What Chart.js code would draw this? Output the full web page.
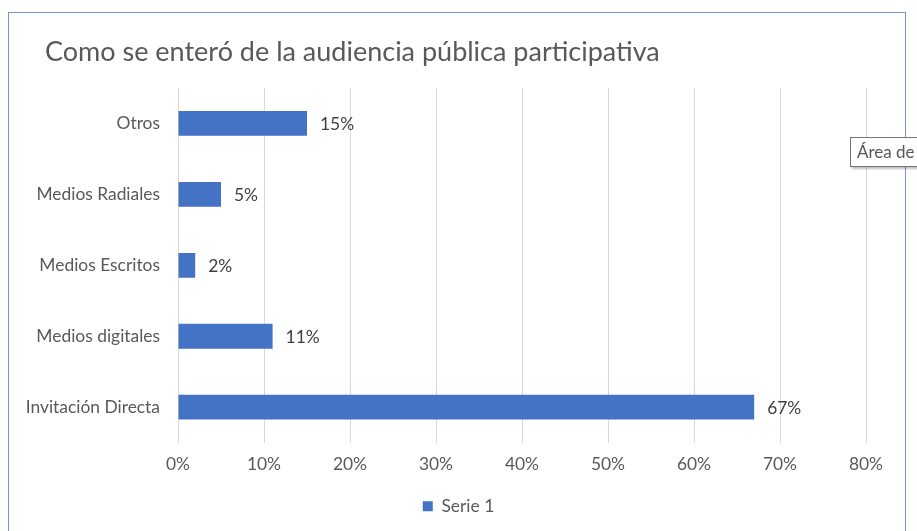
<!DOCTYPE html>
<html>
<head>
<meta charset="utf-8">
<script src="https://cdn.jsdelivr.net/npm/chart.js@4"></script>
<style>
  html, body { margin: 0; padding: 0; background: #ffffff; width: 917px; height: 531px; overflow: hidden; }
  #wrap { position: relative; width: 917px; height: 531px; }
  #frame { position: absolute; left: 8px; top: 12px; width: 898px; height: 540px; border: 1px solid #7196d8; box-sizing: border-box; pointer-events: none; }
  #c { position: absolute; left: 0; top: 0; }
  #tip { position: absolute; left: 850px; top: 137px; height: 28px; padding: 0 8px 0 6px; background: #fff; border: 1px solid #767676; box-shadow: 2px 2px 2px rgba(0,0,0,0.25); font-family: Lato, "Open Sans", sans-serif; font-size: 17px; line-height: 28px; color: #575757; white-space: nowrap; }
</style>
</head>
<body>
<div id="wrap">
  <canvas id="c" width="917" height="531"></canvas>
  <div id="frame"></div>
  <div id="tip">Área de trazado</div>
</div>
<script>
const titleText = "Como se enteró de la audiencia pública participativa";
const categories = ["Otros", "Medios Radiales", "Medios Escritos", "Medios digitales", "Invitación Directa"];
const seriesName = "Serie 1";
const seriesValues = [15, 5, 2, 11, 67];
const xTicks = [0, 10, 20, 30, 40, 50, 60, 70, 80];

const FONT = 'Lato, "Open Sans", sans-serif';
const BLUE = '#4472c4';
const FS = 17.4;

const valueLabels = {
  id: 'valueLabels',
  afterDatasetsDraw(chart) {
    const ctx = chart.ctx;
    const meta = chart.getDatasetMeta(0);
    ctx.save();
    ctx.font = FS + 'px ' + FONT;
    ctx.fillStyle = '#404040';
    ctx.textAlign = 'left';
    ctx.textBaseline = 'middle';
    meta.data.forEach((bar, i) => {
      ctx.fillText(seriesValues[i] + '%', bar.x + 13, bar.y + 1);
    });
    ctx.restore();
  }
};

const titleDraw = {
  id: 'titleDraw',
  afterDraw(chart) {
    const ctx = chart.ctx;
    ctx.save();
    ctx.font = '27px ' + FONT;
    ctx.fillStyle = '#595959';
    ctx.textAlign = 'left';
    ctx.textBaseline = 'middle';
    ctx.fillText(titleText, 45, 52);
    ctx.restore();
  }
};

new Chart(document.getElementById('c'), {
  type: 'bar',
  data: {
    labels: categories,
    datasets: [{
      label: seriesName,
      data: seriesValues,
      backgroundColor: BLUE,
      borderWidth: 0,
      categoryPercentage: 1,
      barPercentage: 0.35
    }]
  },
  options: {
    indexAxis: 'y',
    responsive: false,
    animation: false,
    devicePixelRatio: 1,
    layout: { padding: { left: 0, right: 0, top: 88, bottom: 6 } },
    plugins: {
      title: { display: false },
      legend: {
        display: true,
        position: 'bottom',
        labels: {
          color: '#595959',
          font: { family: FONT, size: FS },
          boxWidth: 10,
          boxHeight: 10,
          padding: 10
        }
      },
      tooltip: { enabled: false }
    },
    scales: {
      x: {
        min: 0,
        max: 80,
        afterBuildTicks(scale) { scale.ticks = xTicks.map(v => ({ value: v })); },
        afterFit(scale) { scale.height = 45; },
        grid: { color: '#d9d9d9', drawTicks: false },
        border: { display: false },
        ticks: {
          color: '#595959',
          font: { family: FONT, size: FS },
          padding: 11,
          callback: v => v + '%'
        }
      },
      y: {
        afterFit(scale) { scale.width = 178; },
        grid: { display: false, drawTicks: false },
        border: { display: false },
        ticks: {
          color: '#595959',
          font: { family: FONT, size: FS },
          padding: 18
        }
      },
      yRight: {
        type: 'category',
        axis: 'y',
        position: 'right',
        labels: categories,
        afterFit(scale) { scale.width = 51; },
        grid: { display: false, drawTicks: false },
        border: { display: false },
        ticks: { display: false }
      }
    }
  },
  plugins: [valueLabels, titleDraw]
});
</script>
</body>
</html>
